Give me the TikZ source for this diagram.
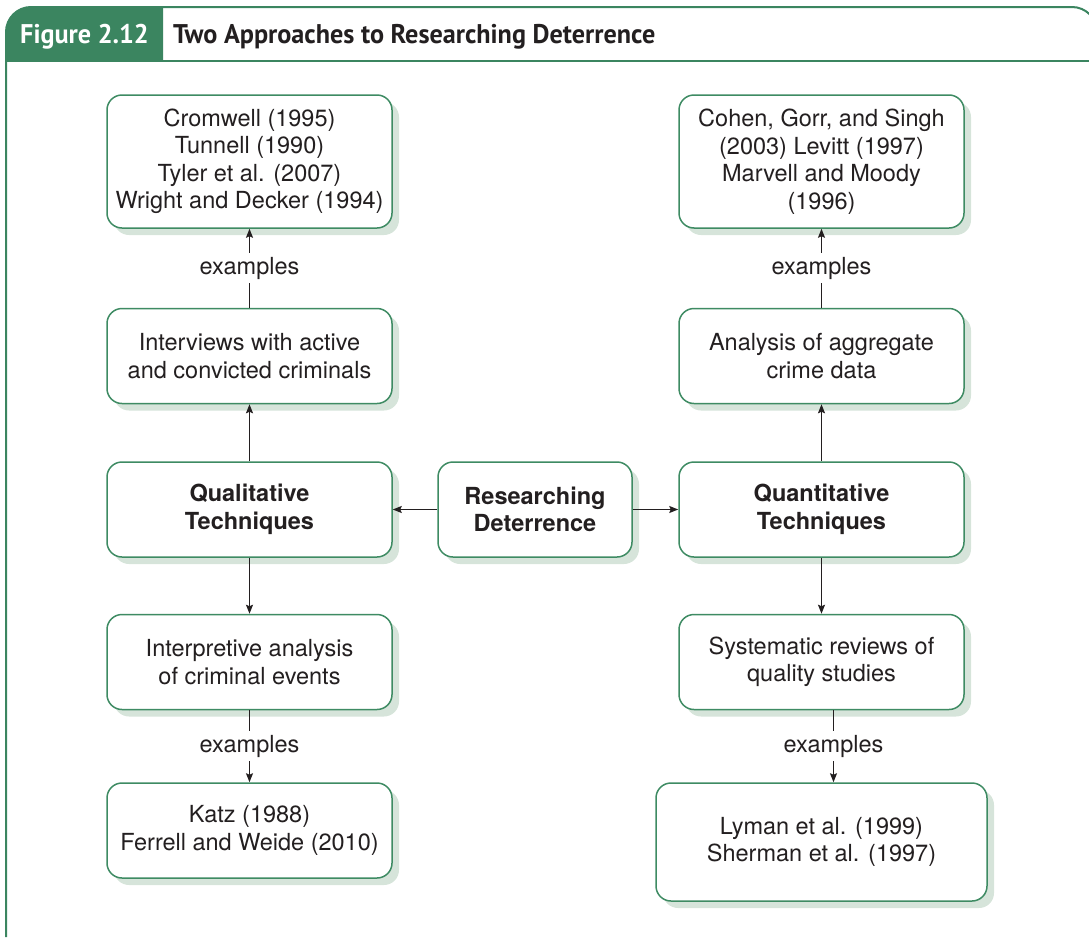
\documentclass[tikz,border=0pt]{standalone}
\usepackage{fontspec}
\setmainfont{TeX Gyre Heros}
\newfontfamily\titlefont[FakeStretch=0.97]{PT Sans}
\usetikzlibrary{arrows.meta,shadows}

\definecolor{figgreen}{HTML}{3B8560}
\definecolor{boxgreen}{HTML}{3E8B63}
\definecolor{shadowgreen}{HTML}{D6E4DA}
\definecolor{ink}{HTML}{231F20}

\newcommand\boxfont{\fontsize{23.5}{27.5}\selectfont}
\newcommand\headfont{\titlefont\bfseries\fontsize{27}{32}\selectfont}

\tikzset{
  box/.style={draw=boxgreen, line width=1.5pt, fill=white, rounded corners=15pt,
    align=center, inner sep=0pt, text=ink, font=\boxfont,
    minimum width=285pt, minimum height=95pt,
    drop shadow={shadow xshift=7pt, shadow yshift=-7pt, fill=shadowgreen, opacity=1}},
  keybox/.style={box, font=\boxfont\bfseries},
  arr/.style={draw=ink, line width=1.4pt, -{Stealth[length=9pt,width=7pt,inset=1.5pt]}},
  lab/.style={fill=white, inner sep=4pt, font=\boxfont, text=ink},
  frameline/.style={draw=figgreen, line width=2pt},
}

\begin{document}
\begin{tikzpicture}[x=1pt,y=-1pt]
\useasboundingbox (0,0) rectangle (1089,937);

% header tab and frame
\fill[figgreen] (6,61) -- (6,32) arc[start angle=180, end angle=270, radius=25] -- (163,7) -- (163,61) -- cycle;
\draw[frameline] (6,937) -- (6,32) arc[start angle=180, end angle=270, radius=25]
  -- (1072,7) arc[start angle=270, end angle=360, radius=25] -- (1097,61);
\draw[frameline] (6,61) -- (1097,61);
\node[anchor=base west, inner sep=0pt, text=white, font=\headfont]
  (fignum) at (20,43) {Figure 2.12};
\node[anchor=base west, inner sep=0pt, text=ink, font=\headfont]
  (figtitle) at (173,43) {Two Approaches to Researching Deterrence};

% qualitative column
\node[box, minimum height=133pt] (cromwell) at (249.5,161.5)
  {Cromwell (1995)\\Tunnell (1990)\\Tyler et al. (2007)\\Wright and Decker (1994)};
\node[box] (interv) at (249.5,356) {Interviews with active\\and convicted criminals};
\node[keybox] (qual) at (249.5,509.5) {Qualitative\\Techniques};
\node[box] (interp) at (249.5,662) {Interpretive analysis\\of criminal events};
\node[box] (katz) at (249.5,830.5) {Katz (1988)\\Ferrell and Weide (2010)};

% centre
\node[keybox, minimum width=194pt] (centre) at (535,509.5) {Researching\\Deterrence};

% quantitative column
\node[box, minimum height=133pt] (cohen) at (821.5,161.5)
  {Cohen, Gorr, and Singh\\(2003) Levitt (1997)\\Marvell and Moody\\(1996)};
\node[box] (aggr) at (821.5,356) {Analysis of aggregate\\crime data};
\node[keybox] (quant) at (821.5,509.5) {Quantitative\\Techniques};
\node[box] (syst) at (821.5,662) {Systematic reviews of\\quality studies};
\node[box, minimum width=331pt, minimum height=118pt] (lyman) at (821.5,842)
  {Lyman et al. (1999)\\Sherman et al. (1997)};

\coordinate (rightdrop) at (833.5,0);

% connectors
\draw[arr] (centre) -- (qual);
\draw[arr] (centre) -- (quant);
\draw[arr] (qual) -- (interv);
\draw[arr] (qual) -- (interp);
\draw[arr] (quant) -- (aggr);
\draw[arr] (quant) -- (syst);
\draw[arr] (interv) -- node[lab] (exa) {examples} (cromwell);
\draw[arr] (interp) -- node[lab] (exb) {examples} (katz);
\draw[arr] (aggr) -- node[lab] (exc) {examples} (cohen);
\draw[arr] (syst.south -| rightdrop) -- node[lab] (exd) {examples} (lyman.north -| rightdrop);
\end{tikzpicture}
\end{document}
